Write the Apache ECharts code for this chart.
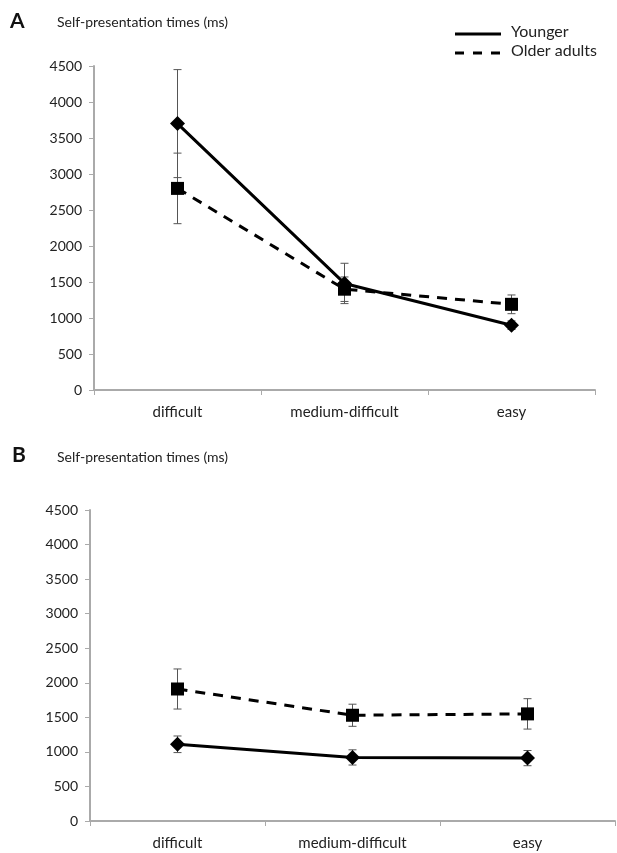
<!DOCTYPE html>
<html lang="en">
<head>
    <meta charset="UTF-8">
    <title>Self-presentation times</title>
    <script src="https://cdn.jsdelivr.net/npm/echarts@6/dist/echarts.min.js"></script>
    <style>
        body { margin: 0; background: #fff; }
    </style>
</head>
<body>
    <div id="main" style="width: 617px;height:853px;"></div>
    <script type="text/javascript">
        const categories = ['difficult', 'medium-difficult', 'easy'];

        // panel A
        const youngerA = [3700, 1480, 900];
        const youngerErrA = [750, 280, 60];
        const olderA = [2800, 1400, 1190];
        const olderErrA = [490, 170, 130];

        // panel B
        const youngerB = [1110, 920, 910];
        const youngerErrB = [120, 110, 110];
        const olderB = [1910, 1530, 1550];
        const olderErrB = [290, 160, 220];

        const FONT = 'Lato, "Open Sans", sans-serif';

        function errData(vals, errs) {
            return vals.map((v, i) => [i, v - errs[i], v + errs[i]]);
        }

        function renderErr(params, api) {
            const i = api.value(0);
            const hi = api.coord([i, api.value(2)]);
            const lo = api.coord([i, api.value(1)]);
            const w = 4;
            const st = { stroke: '#555', lineWidth: 1 };
            return {
                type: 'group',
                children: [
                    { type: 'line', shape: { x1: hi[0], y1: hi[1], x2: lo[0], y2: lo[1] }, style: st },
                    { type: 'line', shape: { x1: hi[0] - w, y1: hi[1], x2: hi[0] + w, y2: hi[1] }, style: st },
                    { type: 'line', shape: { x1: lo[0] - w, y1: lo[1], x2: lo[0] + w, y2: lo[1] }, style: st }
                ]
            };
        }

        function xAx(idx) {
            return {
                type: 'category',
                gridIndex: idx,
                data: categories,
                boundaryGap: true,
                axisLine: { lineStyle: { color: '#aaa', width: 2 } },
                axisTick: { show: true, length: 5, lineStyle: { color: '#aaa' } },
                axisLabel: { color: '#222', fontSize: 15, fontFamily: FONT, margin: 15 }
            };
        }

        function yAx(idx) {
            return {
                type: 'value',
                gridIndex: idx,
                min: 0,
                max: 4500,
                interval: 500,
                splitLine: { show: false },
                axisLine: { show: true, lineStyle: { color: '#aaa', width: 2 } },
                axisTick: { show: true, length: 5, lineStyle: { color: '#aaa' } },
                axisLabel: {
                    color: '#222', fontSize: 14, fontFamily: FONT, margin: 12,
                    formatter: (v) => String(v)
                }
            };
        }

        function lineSeries(idx, data, dashed, symbol, size) {
            return {
                type: 'line',
                xAxisIndex: idx,
                yAxisIndex: idx,
                data: data,
                symbol: symbol,
                symbolSize: size,
                z: 3,
                itemStyle: { color: '#000' },
                lineStyle: { color: '#000', width: 3, type: dashed ? [10, 8] : 'solid' },
                animation: false
            };
        }

        function errSeries(idx, vals, errs) {
            return {
                type: 'custom',
                xAxisIndex: idx,
                yAxisIndex: idx,
                data: errData(vals, errs),
                renderItem: renderErr,
                z: 2,
                animation: false
            };
        }

        const options = {
            animation: false,
            grid: [
                { left: 94, right: 22, top: 66, height: 324, outerBoundsMode: 'none' },
                { left: 90, right: 2, top: 510, height: 311, outerBoundsMode: 'none' }
            ],
            xAxis: [xAx(0), xAx(1)],
            yAxis: [yAx(0), yAx(1)],
            series: [
                errSeries(0, youngerA, youngerErrA),
                errSeries(0, olderA, olderErrA),
                lineSeries(0, youngerA, false, 'diamond', 15),
                lineSeries(0, olderA, true, 'rect', 13),
                errSeries(1, youngerB, youngerErrB),
                errSeries(1, olderB, olderErrB),
                lineSeries(1, youngerB, false, 'diamond', 15),
                lineSeries(1, olderB, true, 'rect', 13)
            ],
            graphic: [
                { type: 'text', left: 10, top: 11, style: { text: 'A', font: 'bold 21px ' + FONT, fill: '#111' } },
                { type: 'text', left: 57, top: 15, style: { text: 'Self-presentation times (ms)', font: '14px ' + FONT, fill: '#222' } },
                { type: 'text', left: 12, top: 445, style: { text: 'B', font: 'bold 21px ' + FONT, fill: '#111' } },
                { type: 'text', left: 57, top: 450, style: { text: 'Self-presentation times (ms)', font: '14px ' + FONT, fill: '#222' } },
                { type: 'line', shape: { x1: 455, y1: 34, x2: 501, y2: 34 }, style: { stroke: '#000', lineWidth: 3 } },
                { type: 'line', shape: { x1: 455, y1: 53, x2: 501, y2: 53 }, style: { stroke: '#000', lineWidth: 3, lineDash: [9, 9] } },
                { type: 'text', left: 511, top: 24, style: { text: 'Younger', font: '16px ' + FONT, fill: '#222' } },
                { type: 'text', left: 511, top: 43, style: { text: 'Older adults', font: '16px ' + FONT, fill: '#222' } }
            ]
        };

        let myChart = echarts.init(document.getElementById('main'));
        myChart.setOption(options);
    </script>
</body>
</html>
